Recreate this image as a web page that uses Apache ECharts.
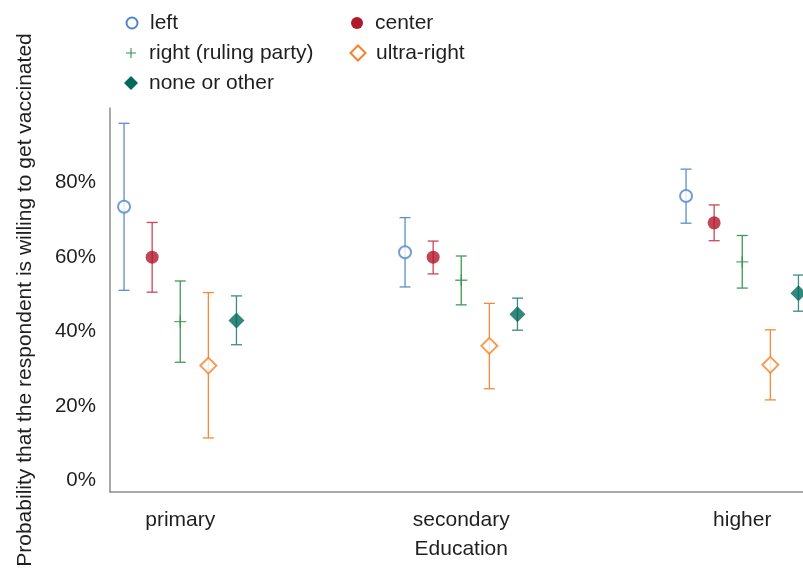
<!DOCTYPE html>
<html>
<head>
<meta charset="utf-8">
<script src="https://cdn.jsdelivr.net/npm/echarts@6/dist/echarts.min.js"></script>
<style>
  html, body { margin: 0; padding: 0; background: #fff; }
  #chart { width: 803px; height: 569px; }
</style>
</head>
<body>
<div id="chart"></div>
<script>
// Education groups along the x axis
const categories = ['primary', 'secondary', 'higher'];

// Predicted probabilities and 95% intervals per political preference
const leftEst   = [0.735, 0.613, 0.764];
const leftLow   = [0.511, 0.520, 0.691];
const leftHigh  = [0.959, 0.706, 0.836];

const centerEst  = [0.600, 0.600, 0.692];
const centerLow  = [0.506, 0.555, 0.644];
const centerHigh = [0.693, 0.643, 0.740];

const rightEst  = [0.427, 0.538, 0.587];
const rightLow  = [0.318, 0.472, 0.517];
const rightHigh = [0.536, 0.603, 0.658];

const ultraEst  = [0.309, 0.362, 0.311];
const ultraLow  = [0.115, 0.247, 0.217];
const ultraHigh = [0.505, 0.476, 0.405];

const noneEst  = [0.430, 0.447, 0.503];
const noneLow  = [0.365, 0.404, 0.455];
const noneHigh = [0.496, 0.490, 0.552];

// Y axis tick labels
const yTicks = [0, 0.2, 0.4, 0.6, 0.8];

const FONT = "'Liberation Sans', Arial, sans-serif";
const TEXT = '#1f1f1f';
const plusPath = 'path://M0,5.35H12V6.65H0Z M5.35,0H6.65V12H5.35Z';

const groups = [
  { name: 'left', est: leftEst, lo: leftLow, hi: leftHigh, offset: -0.2,
    color: '#4f86c9', bar: '#5b8fd0', symbol: 'emptyCircle', size: 12, legendSize: 11 },
  { name: 'center', est: centerEst, lo: centerLow, hi: centerHigh, offset: -0.1,
    color: '#b2182b', bar: '#cc4656', symbol: 'circle', size: 13, legendSize: 12 },
  { name: 'right (ruling party)', est: rightEst, lo: rightLow, hi: rightHigh, offset: 0,
    color: '#33934a', bar: '#3f9a55', symbol: plusPath, size: 12, legendSize: 10 },
  { name: 'ultra-right', est: ultraEst, lo: ultraLow, hi: ultraHigh, offset: 0.1,
    color: '#f5822a', bar: '#f58a36', symbol: 'emptyDiamond', size: 16, legendSize: 15 },
  { name: 'none or other', est: noneEst, lo: noneLow, hi: noneHigh, offset: 0.2,
    color: '#006a5b', bar: '#3b8c82', symbol: 'diamond', size: 16, legendSize: 14 }
];

const series = [];
groups.forEach(function (g) {
  // interval whiskers with caps
  series.push({
    type: 'custom',
    name: g.name,
    z: 2,
    silent: true,
    data: categories.map(function (c, i) { return [i + 1 + g.offset, g.lo[i], g.hi[i]]; }),
    encode: { x: 0, y: [1, 2] },
    renderItem: function (params, api) {
      const x = api.value(0);
      const p0 = api.coord([x, api.value(1)]);
      const p1 = api.coord([x, api.value(2)]);
      const half = 5.5;
      const style = { stroke: g.bar, lineWidth: 1.3 };
      return {
        type: 'group',
        children: [
          { type: 'line', shape: { x1: p0[0], y1: p0[1], x2: p1[0], y2: p1[1] }, style: style },
          { type: 'line', shape: { x1: p0[0] - half, y1: p0[1], x2: p0[0] + half, y2: p0[1] }, style: style },
          { type: 'line', shape: { x1: p1[0] - half, y1: p1[1], x2: p1[0] + half, y2: p1[1] }, style: style }
        ]
      };
    }
  });
  // point estimates
  series.push({
    type: 'scatter',
    name: g.name,
    z: 3,
    clip: false,
    symbol: g.symbol,
    symbolSize: g.size,
    symbolKeepAspect: true,
    itemStyle: g.symbol.indexOf('empty') === 0
      ? { color: g.color, borderWidth: 1.3 }
      : { color: g.color },
    data: categories.map(function (c, i) { return [i + 1 + g.offset, g.est[i]]; })
  });
});

function legendFor(names, left) {
  return names.map(function (n, row) {
    const g = groups.find(function (d) { return d.name === n; });
    return {
      orient: 'vertical',
      left: left - g.legendSize / 2,
      top: 22.5 + row * 30,
      itemWidth: g.legendSize,
      itemHeight: g.legendSize,
      selectedMode: false,
      padding: 0,
      textStyle: { fontFamily: FONT, fontSize: 21, color: TEXT, lineHeight: 20,
                   padding: [0, 0, 0, 17 - g.legendSize / 2 - 5 + 1] },
      data: [{ name: n, icon: g.symbol,
               itemStyle: g.symbol.indexOf('empty') === 0
                 ? { color: g.color, borderColor: g.color, borderWidth: 1.2 }
                 : { color: g.color } }]
    };
  });
}

const legends = legendFor(['left', 'right (ruling party)', 'none or other'], 131)
  .concat(legendFor(['center', 'ultra-right'], 357));
// legends are positioned by their vertical centre
legends.forEach(function (l) { l.top = l.top - 10; });

const option = {
  animation: false,
  backgroundColor: '#fff',
  legend: legends,
  grid: { left: 110, top: 108, bottom: 77, right: -9.5, outerBoundsMode: 'none' },
  xAxis: {
    type: 'value',
    min: 0.75,
    max: 3.25,
    name: 'Education',
    nameLocation: 'middle',
    nameGap: 47,
    nameTextStyle: { fontFamily: FONT, fontSize: 21, color: TEXT },
    splitLine: { show: false },
    axisTick: { show: false },
    axisLine: { show: true, onZero: false, lineStyle: { color: '#8c8c8c', width: 1.5 } },
    axisLabel: {
      customValues: [1, 2, 3],
      margin: 18,
      fontFamily: FONT, fontSize: 21, color: TEXT,
      formatter: function (v) { return categories[Math.round(v) - 1] || ''; }
    }
  },
  yAxis: {
    type: 'value',
    min: -0.03,
    max: 1.0,
    name: 'Probability that the respondent is willing to get vaccinated',
    nameLocation: 'middle',
    nameGap: 74,
    nameTextStyle: { fontFamily: FONT, fontSize: 21, color: TEXT },
    splitLine: { show: false },
    axisTick: { show: false },
    axisLine: { show: true, onZero: false, lineStyle: { color: '#8c8c8c', width: 1.5 } },
    axisLabel: {
      customValues: yTicks,
      margin: 14,
      fontFamily: FONT, fontSize: 20.5, color: TEXT,
      formatter: function (v) { return Math.round(v * 100) + '%'; }
    }
  },
  series: series
};

const chart = echarts.init(document.getElementById('chart'), null, { renderer: 'canvas' });
chart.setOption(option);
</script>
</body>
</html>
